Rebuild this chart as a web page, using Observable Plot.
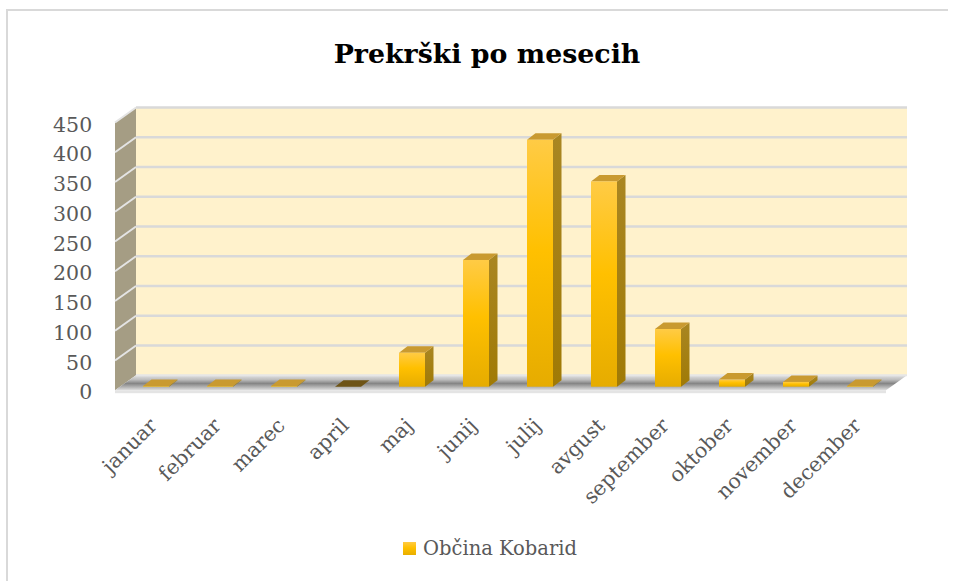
<!DOCTYPE html>
<html>
<head>
<meta charset="utf-8">
<script src="https://cdn.jsdelivr.net/npm/d3@7"></script>
<script src="https://cdn.jsdelivr.net/npm/@observablehq/plot@0.6"></script>
<style>
  html, body { margin: 0; padding: 0; background: #fff; overflow: hidden; }
  #wrap { position: relative; width: 956px; height: 581px; overflow: hidden; font-family: "DejaVu Serif", serif; }
  #chart { position: absolute; left: 0; top: 0; }
  #title { position: absolute; left: 487px; top: 40px; transform: translateX(-50%); white-space: nowrap;
           font: bold 26.8px/28px "DejaVu Serif", serif; color: #000; }
  #legend { position: absolute; left: 403px; top: 539px; white-space: nowrap; font: 19.5px/20px "DejaVu Serif", serif; color: #595959; }
  #legend .sw { position: absolute; left: 0; top: 3px; width: 13px; height: 13px;
                background: linear-gradient(#ffcb45, #ffc000 45%, #e8ae00); }
  #legend .lb { position: absolute; left: 20px; top: 0; }
  .frameL { position: absolute; left: 6px; top: 10px; width: 2px; height: 571px; background: #d9d9d9; }
  .frameT { position: absolute; left: 6px; top: 9px; width: 942px; height: 2px; background: #d9d9d9; }
</style>
</head>
<body>
<div id="wrap">
  <div class="frameL"></div>
  <div class="frameT"></div>
  <div id="chart"></div>
  <div id="title">Prekrški po mesecih</div>
  <div id="legend"><span class="sw"></span><span class="lb">Občina Kobarid</span></div>
</div>
<script>
// ---- data ----
const months = ["januar", "februar", "marec", "april", "maj", "junij", "julij", "avgust", "september", "oktober", "november", "december"];
const values = [1, 1, 1, 0, 57, 213, 415, 345, 97, 12, 8, 1];
const yTicks = [0, 50, 100, 150, 200, 250, 300, 350, 400, 450];
const seriesName = "Občina Kobarid";

const data = months.map((m, i) => ({month: m, value: values[i]}));

// ---- 3D look (pseudo depth offsets) ----
const DX_BACK = 14, DY_BACK = -11.5;   // back wall relative to bar plane
const DX_FRONT = -7, DY_FRONT = 3.5;   // front edge relative to bar plane
const SIDE_DX = 8.5, SIDE_DY = -6.5;   // bar depth

const svgNS = "http://www.w3.org/2000/svg";
function el(name, attrs) {
  const e = document.createElementNS(svgNS, name);
  for (const k in attrs) e.setAttribute(k, attrs[k]);
  return e;
}
function pts(a) { return a.map(p => p[0].toFixed(2) + "," + p[1].toFixed(2)).join(" "); }

function defsMark() {
  const defs = el("defs", {});
  const g1 = el("linearGradient", {id: "frontGrad", x1: 0, y1: 0, x2: 0, y2: 1});
  [["0%", "#ffcb45"], ["45%", "#ffc000"], ["100%", "#e6ac00"]].forEach(([o, c]) => g1.appendChild(el("stop", {offset: o, "stop-color": c})));
  const g2 = el("linearGradient", {id: "sideGrad", x1: 0, y1: 0, x2: 0, y2: 1});
  [["0%", "#a98622"], ["100%", "#a07a05"]].forEach(([o, c]) => g2.appendChild(el("stop", {offset: o, "stop-color": c})));
  defs.appendChild(g1); defs.appendChild(g2);
  return defs;
}

function wallsMark(index, scales, vals, dims) {
  const {x, y} = scales;
  const x0 = dims.marginLeft, x1 = dims.width - dims.marginRight;
  const yTop = y(yTicks[yTicks.length - 1]), y0 = y(0);
  const g = el("g", {});
  const defs = el("defs", {});
  const fg = el("linearGradient", {id: "floorGrad", gradientUnits: "userSpaceOnUse", x1: 0, y1: y0 + DY_BACK, x2: 0, y2: y0 + DY_FRONT});
  [["0%", "#e2e2e2"], ["30%", "#bdbdbd"], ["55%", "#858585"], ["80%", "#b5b5b5"], ["100%", "#e0e0e0"]].forEach(([o, c]) => fg.appendChild(el("stop", {offset: o, "stop-color": c})));
  defs.appendChild(fg);
  g.appendChild(defs);
  // back wall
  g.appendChild(el("rect", {x: x0 + DX_BACK, y: yTop + DY_BACK, width: x1 - x0, height: y0 - yTop, fill: "#fff2cc"}));
  for (const t of yTicks) {
    if (t === 0) continue;
    g.appendChild(el("line", {x1: x0 + DX_BACK, x2: x1 + DX_BACK, y1: y(t) + DY_BACK, y2: y(t) + DY_BACK, stroke: "#d9d9d9", "stroke-width": 2.5}));
  }
  // left wall
  g.appendChild(el("polygon", {points: pts([[x0 + DX_FRONT, yTop + DY_FRONT], [x0 + DX_BACK, yTop + DY_BACK], [x0 + DX_BACK, y0 + DY_BACK], [x0 + DX_FRONT, y0 + DY_FRONT]]), fill: "#a59d84"}));
  for (const t of yTicks) {
    if (t === 0) continue;
    g.appendChild(el("line", {x1: x0 + DX_FRONT, x2: x0 + DX_BACK, y1: y(t) + DY_FRONT, y2: y(t) + DY_BACK, stroke: "#e4e4e4", "stroke-width": 2}));
  }
  // floor
  g.appendChild(el("polygon", {points: pts([[x0 + DX_FRONT, y0 + DY_FRONT], [x1 + DX_FRONT, y0 + DY_FRONT], [x1 + DX_BACK, y0 + DY_BACK], [x0 + DX_BACK, y0 + DY_BACK]]), fill: "url(#floorGrad)"}));
  g.appendChild(el("line", {x1: x0 + DX_BACK, x2: x1 + DX_BACK, y1: y0 + DY_BACK, y2: y0 + DY_BACK, stroke: "#e6e6e6", "stroke-width": 2}));
  g.appendChild(el("rect", {x: x0 + DX_FRONT, y: y0 + DY_FRONT, width: x1 - x0, height: 3, fill: "#e4e4e4"}));
  return g;
}

function barDepthMark(index, scales, vals, dims) {
  const {x, y} = scales;
  const step = (dims.width - dims.marginRight - dims.marginLeft) / months.length;
  const bw = x.bandwidth ? x.bandwidth() : step * 0.4;
  const g = el("g", {});
  for (const d of data) {
    const xa = x(d.month), xb = xa + bw;
    const yv = y(d.value), y0 = y(0);
    if (y0 - yv > 0.5) {
      g.appendChild(el("polygon", {points: pts([[xb, yv], [xb + SIDE_DX, yv + SIDE_DY], [xb + SIDE_DX, y0 + SIDE_DY], [xb, y0]]), fill: "url(#sideGrad)"}));
    }
    g.appendChild(el("polygon", {points: pts([[xa, yv], [xa + SIDE_DX, yv + SIDE_DY], [xb + SIDE_DX, yv + SIDE_DY], [xb, yv]]),
      fill: d.value === 0 ? "#6e5416" : "#c99a30"}));
  }
  return g;
}

const plot = Plot.plot({
  width: 956,
  height: 581,
  marginLeft: 122,
  marginRight: 63,
  marginTop: 119,
  marginBottom: 581 - 386.7,
  style: {fontFamily: "DejaVu Serif, serif", fontSize: "20px", color: "#595959", background: "transparent", overflow: "visible"},
  x: {domain: months, paddingInner: 0.6, paddingOuter: 0.3, label: null},
  y: {domain: [0, 450], label: null},
  marks: [
    defsMark,
    wallsMark,
    barDepthMark,
    Plot.barY(data, {x: "month", y: "value", fill: "url(#frontGrad)", title: d => `${seriesName}: ${d.month} ${d.value}`}),
    Plot.axisY({ticks: yTicks, tickSize: 0, tickPadding: 30.3, dy: 5.5, fontSize: 20.5, tickFormat: d => String(d), label: null}),
    Plot.axisX({tickRotate: -45, tickSize: 0, tickPadding: 35, dx: -3, fontSize: 20.5, label: null})
  ]
});
document.getElementById("chart").appendChild(plot);
</script>
</body>
</html>
